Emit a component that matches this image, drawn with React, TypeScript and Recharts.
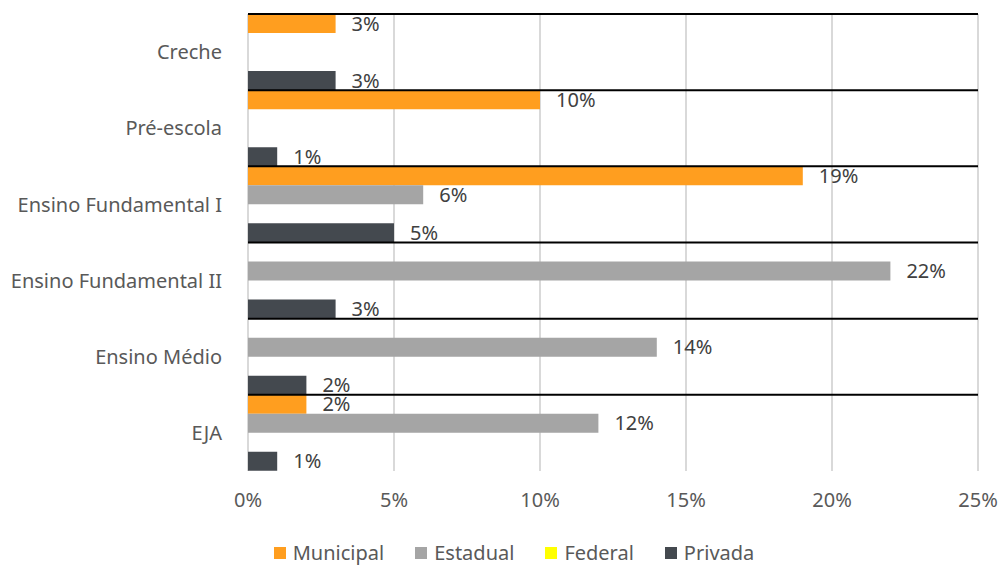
import { BarChart, Bar, XAxis, YAxis, CartesianGrid, Legend, ReferenceLine, LabelList } from 'recharts';

const categories = ['Creche', 'Pré-escola', 'Ensino Fundamental I', 'Ensino Fundamental II', 'Ensino Médio', 'EJA'];
const municipal = [3, 10, 19, 0, 0, 2];
const estadual = [0, 0, 6, 22, 14, 12];
const federal = [0, 0, 0, 0, 0, 0];
const privada = [3, 1, 5, 3, 2, 1];
const xTicks = [0, 5, 10, 15, 20, 25];

const series = [
  { key: 'municipal', name: 'Municipal', color: '#ff9e1f' },
  { key: 'estadual', name: 'Estadual', color: '#a5a5a5' },
  { key: 'federal', name: 'Federal', color: '#ffff00' },
  { key: 'privada', name: 'Privada', color: '#44494f' },
];

const data = categories.map((name, i) => ({
  name,
  municipal: municipal[i],
  estadual: estadual[i],
  federal: federal[i],
  privada: privada[i],
}));

const FONT = '"Noto Sans", sans-serif';

const pct = (v: any) => (v ? `${v}%` : '');

const LegendBox = () => (
  <div style={{ display: 'flex', justifyContent: 'center', gap: 31, fontFamily: FONT, fontSize: 20, color: '#595959', lineHeight: '30px' }}>
    {series.map((s) => (
      <div key={s.key} style={{ display: 'flex', alignItems: 'center', gap: 7 }}>
        <span style={{ width: 12, height: 12, background: s.color, display: 'inline-block' }} />
        <span>{s.name}</span>
      </div>
    ))}
  </div>
);

export default function App() {
  return (
    <div style={{ position: 'absolute', left: 0, top: 0, width: 998, height: 565, background: '#fff' }}>
      <BarChart
        width={998}
        height={565}
        data={data}
        layout="vertical"
        margin={{ top: 14, right: 20, bottom: 34, left: 0 }}
        barCategoryGap={0}
        barGap={0}
      >
        <CartesianGrid horizontal={false} stroke="#d9d9d9" strokeWidth={2} />
        <XAxis
          type="number"
          domain={[0, 25]}
          ticks={xTicks}
          tickFormatter={(v) => `${v}%`}
          axisLine={false}
          tickLine={false}
          tickMargin={16}
          tick={{ fill: '#595959', fontSize: 20, fontFamily: FONT }}
        />
        <YAxis
          type="category"
          dataKey="name"
          width={248}
          axisLine={false}
          tickLine={false}
          tickMargin={20}
          tick={{ fill: '#595959', fontSize: 20, fontFamily: FONT }}
        />
        {series.map((s) => (
          <Bar key={s.key} dataKey={s.key} name={s.name} fill={s.color} isAnimationActive={false}>
            <LabelList
              dataKey={s.key}
              position="right"
              offset={16}
              formatter={pct}
              style={{ fill: '#404040', fontSize: 20, fontFamily: FONT }}
            />
          </Bar>
        ))}
        {categories.map((c) => (
          <ReferenceLine key={c} y={c} position="start" stroke="#000" strokeWidth={2} />
        ))}
        <ReferenceLine y={categories[categories.length - 1]} position="end" stroke="#000" strokeWidth={2} />
        <Legend verticalAlign="bottom" content={<LegendBox />} wrapperStyle={{ bottom: -3, left: 15, width: 998, height: 30 }} />
      </BarChart>
    </div>
  );
}
